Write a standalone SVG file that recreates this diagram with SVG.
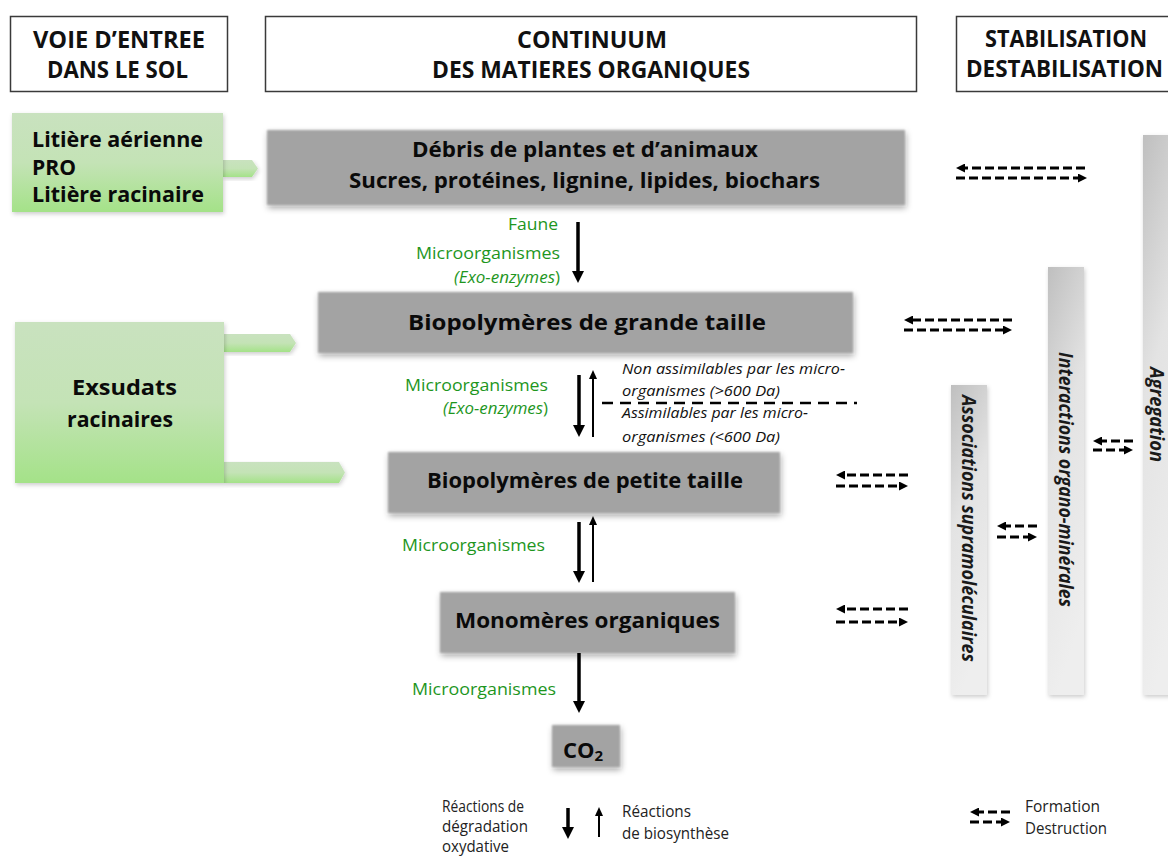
<svg xmlns="http://www.w3.org/2000/svg" width="1168" height="857" viewBox="0 0 1168 857">
<style>
text{font-family:'Open Sans','Liberation Sans',sans-serif;}
.hdr{font-size:23px;font-weight:bold;fill:#111;text-anchor:middle;}
.hbox{fill:#fff;stroke:#3a3a3a;stroke-width:1.5;}
.gbox{fill:#a3a3a3;}
.gt{font-size:22px;font-weight:bold;fill:#0a0a0a;text-anchor:middle;}
.lt{font-size:22px;font-weight:bold;fill:#0a0a0a;}
.grn{font-size:16.5px;fill:#1e961e;text-anchor:end;}
.it{font-size:15px;font-style:italic;fill:#111;}
.leg{font-size:15.5px;fill:#222;}
.vt{font-size:19px;font-weight:bold;font-style:italic;fill:#1a1a1a;}
.thick{stroke:#000;stroke-width:3.5;fill:none;}
.thin{stroke:#000;stroke-width:2;fill:none;}
.dash{stroke:#000;stroke-width:3.2;stroke-dasharray:9 4;fill:none;}
.sep{stroke:#000;stroke-width:2.5;stroke-dasharray:11 7;fill:none;}
</style>
<defs>
<linearGradient id="gg" x1="0" y1="0" x2="0" y2="1">
<stop offset="0" stop-color="#c9e2bf"/>
<stop offset="0.5" stop-color="#c4e3b6"/>
<stop offset="1" stop-color="#a4e288"/>
</linearGradient>
<linearGradient id="bar" x1="0" y1="0" x2="0.25" y2="1">
<stop offset="0" stop-color="#bfbfbf"/>
<stop offset="0.45" stop-color="#e3e3e3"/>
<stop offset="1" stop-color="#eeeeee"/>
</linearGradient>
<filter id="soft" x="-10%" y="-20%" width="125%" height="160%">
<feGaussianBlur in="SourceAlpha" stdDeviation="3" result="b"/>
<feOffset in="b" dx="1" dy="3" result="o"/>
<feFlood flood-color="#000" flood-opacity="0.35"/>
<feComposite in2="o" operator="in" result="s"/>
<feGaussianBlur in="SourceGraphic" stdDeviation="1.2" result="g"/>
<feMerge><feMergeNode in="s"/><feMergeNode in="g"/></feMerge>
</filter>
<filter id="lite" x="-10%" y="-10%" width="125%" height="130%">
<feGaussianBlur in="SourceAlpha" stdDeviation="2" result="b"/>
<feOffset in="b" dx="1" dy="2" result="o"/>
<feFlood flood-color="#000" flood-opacity="0.2"/>
<feComposite in2="o" operator="in" result="s"/>
<feMerge><feMergeNode in="s"/><feMergeNode in="SourceGraphic"/></feMerge>
</filter>
<marker id="ah" viewBox="0 0 12 12" markerWidth="12" markerHeight="12" refX="0" refY="6" orient="auto" markerUnits="userSpaceOnUse">
<path d="M0,0 L12,6 L0,12 z" fill="#000"/>
</marker>
<marker id="ahs" viewBox="0 0 9 8" markerWidth="9" markerHeight="8" refX="0" refY="4" orient="auto" markerUnits="userSpaceOnUse">
<path d="M0,0 L9,4 L0,8 z" fill="#000"/>
</marker>
<marker id="dh" viewBox="0 0 9 9" markerWidth="9" markerHeight="9" refX="0" refY="4.5" orient="auto" markerUnits="userSpaceOnUse">
<path d="M0,0 L9,4.5 L0,9 z" fill="#000"/>
</marker>
</defs>
<rect width="1168" height="857" fill="#fff"/>

<g id="header-voie">
<rect class="hbox" x="10.5" y="16.5" width="217" height="75"/>
<text class="hdr" x="119" y="48" textLength="172" lengthAdjust="spacingAndGlyphs">VOIE D’ENTREE</text>
<text class="hdr" x="117.5" y="78" textLength="141" lengthAdjust="spacingAndGlyphs">DANS LE SOL</text>
</g>
<g id="header-continuum">
<rect class="hbox" x="265.5" y="16.5" width="651" height="75"/>
<text class="hdr" x="592" y="48" textLength="150" lengthAdjust="spacingAndGlyphs">CONTINUUM</text>
<text class="hdr" x="591" y="78" textLength="318" lengthAdjust="spacingAndGlyphs">DES MATIERES ORGANIQUES</text>
</g>
<g id="header-stabilisation">
<rect class="hbox" x="956.5" y="16.5" width="230" height="75"/>
<text class="hdr" x="1066" y="47" textLength="162" lengthAdjust="spacingAndGlyphs">STABILISATION</text>
<text class="hdr" x="1064.5" y="77" textLength="197" lengthAdjust="spacingAndGlyphs">DESTABILISATION</text>
</g>

<g id="litiere">
<polygon points="223,160 252,160 258,168.5 252,177 223,177" fill="url(#gg)" filter="url(#lite)"/>
<rect x="12" y="113" width="211" height="99" fill="url(#gg)" filter="url(#lite)"/>
<text class="lt" x="32" y="147" textLength="171" lengthAdjust="spacingAndGlyphs">Litière aérienne</text>
<text class="lt" x="32" y="175" textLength="44" lengthAdjust="spacingAndGlyphs">PRO</text>
<text class="lt" x="32" y="202" textLength="172" lengthAdjust="spacingAndGlyphs">Litière racinaire</text>
</g>
<g id="exsudats">
<polygon points="224,334 290,334 296,343 290,352 224,352" fill="url(#gg)" filter="url(#lite)"/>
<polygon points="224,462 339,462 345,472.5 339,483 224,483" fill="url(#gg)" filter="url(#lite)"/>
<rect x="15" y="322" width="209" height="161" fill="url(#gg)" filter="url(#lite)"/>
<text class="lt" x="72" y="395" textLength="105" lengthAdjust="spacingAndGlyphs">Exsudats</text>
<text class="lt" x="67" y="427" textLength="106" lengthAdjust="spacingAndGlyphs">racinaires</text>
</g>

<g id="debris">
<rect class="gbox" x="267" y="130" width="638" height="75" filter="url(#soft)"/>
<text class="gt" x="585" y="157" textLength="346" lengthAdjust="spacingAndGlyphs">Débris de plantes et d’animaux</text>
<text class="gt" x="584.5" y="188" textLength="471" lengthAdjust="spacingAndGlyphs">Sucres, protéines, lignine, lipides, biochars</text>
</g>
<g id="biopoly-grande">
<rect class="gbox" x="318" y="292" width="535" height="61" filter="url(#soft)"/>
<text class="gt" x="587" y="330" textLength="358" lengthAdjust="spacingAndGlyphs">Biopolymères de grande taille</text>
</g>
<g id="biopoly-petite">
<rect class="gbox" x="388" y="452" width="392" height="61" filter="url(#soft)"/>
<text class="gt" x="585" y="488" textLength="316" lengthAdjust="spacingAndGlyphs">Biopolymères de petite taille</text>
</g>
<g id="monomeres">
<rect class="gbox" x="440" y="592" width="295" height="61" filter="url(#soft)"/>
<text class="gt" x="587.5" y="628" textLength="265" lengthAdjust="spacingAndGlyphs">Monomères organiques</text>
</g>
<g id="co2">
<rect class="gbox" x="552" y="725" width="68" height="42" filter="url(#soft)"/>
<text class="lt" x="563" y="758" font-size="23">CO<tspan font-size="15" dy="3">2</tspan></text>
</g>

<g id="associations">
<rect x="951" y="385" width="36" height="310" fill="url(#bar)" filter="url(#lite)"/>
<text class="vt" transform="translate(962,395) rotate(90)" textLength="267" lengthAdjust="spacingAndGlyphs">Associations supramoléculaires</text>
</g>
<g id="interactions">
<rect x="1048" y="267" width="36" height="428" fill="url(#bar)" filter="url(#lite)"/>
<text class="vt" transform="translate(1059,352) rotate(90)" textLength="255" lengthAdjust="spacingAndGlyphs">Interactions organo-minérales</text>
</g>
<g id="agregation">
<rect x="1143" y="135" width="40" height="560" fill="url(#bar)" filter="url(#lite)"/>
<text class="vt" transform="translate(1150,367) rotate(90)" textLength="95" lengthAdjust="spacingAndGlyphs">Agregation</text>
</g>

<g id="labels">
<text class="grn" x="558" y="230" textLength="50" lengthAdjust="spacingAndGlyphs">Faune</text>
<text class="grn" x="560" y="259" textLength="144" lengthAdjust="spacingAndGlyphs">Microorganismes</text>
<text class="grn" x="560" y="283" textLength="106" lengthAdjust="spacingAndGlyphs"><tspan font-style="italic">(Exo-enzymes</tspan>)</text>
<text class="grn" x="548" y="391" textLength="143" lengthAdjust="spacingAndGlyphs">Microorganismes</text>
<text class="grn" x="548" y="414" textLength="105" lengthAdjust="spacingAndGlyphs"><tspan font-style="italic">(Exo-enzymes</tspan>)</text>
<text class="grn" x="545" y="551" textLength="143" lengthAdjust="spacingAndGlyphs">Microorganismes</text>
<text class="grn" x="556" y="695" textLength="144" lengthAdjust="spacingAndGlyphs">Microorganismes</text>
<text class="it" x="622" y="374" textLength="223" lengthAdjust="spacingAndGlyphs">Non assimilables par les micro-</text>
<text class="it" x="622" y="396" textLength="158" lengthAdjust="spacingAndGlyphs">organismes (&gt;600 Da)</text>
<text class="it" x="622" y="418" textLength="186" lengthAdjust="spacingAndGlyphs">Assimilables par les micro-</text>
<text class="it" x="622" y="442" textLength="158" lengthAdjust="spacingAndGlyphs">organismes (&lt;600 Da)</text>
</g>

<g id="connectors">
<line class="thick" x1="578" y1="222" x2="578" y2="271" marker-end="url(#ah)"/>
<line class="thick" x1="579" y1="375" x2="579" y2="425" marker-end="url(#ah)"/>
<line class="thin" x1="593" y1="437" x2="593" y2="379" marker-end="url(#ahs)"/>
<line class="thick" x1="579" y1="522" x2="579" y2="571" marker-end="url(#ah)"/>
<line class="thin" x1="593" y1="582" x2="593" y2="525" marker-end="url(#ahs)"/>
<line class="thick" x1="579" y1="653" x2="579" y2="701" marker-end="url(#ah)"/>
<line class="sep" x1="602" y1="403" x2="857" y2="403"/>

<line class="dash" x1="1085" y1="168" x2="965" y2="168" marker-end="url(#dh)"/>
<line class="dash" x1="956" y1="178" x2="1078" y2="178" marker-end="url(#dh)"/>
<line class="dash" x1="1012" y1="320" x2="913" y2="320" marker-end="url(#dh)"/>
<line class="dash" x1="904" y1="330" x2="1003" y2="330" marker-end="url(#dh)"/>
<line class="dash" x1="908" y1="475" x2="845" y2="475" marker-end="url(#dh)"/>
<line class="dash" x1="836" y1="486" x2="899" y2="486" marker-end="url(#dh)"/>
<line class="dash" x1="908" y1="609" x2="845" y2="609" marker-end="url(#dh)"/>
<line class="dash" x1="836" y1="622" x2="899" y2="622" marker-end="url(#dh)"/>
<line class="dash" x1="1037" y1="526" x2="1006" y2="526" marker-end="url(#dh)"/>
<line class="dash" x1="997" y1="537" x2="1028" y2="537" marker-end="url(#dh)"/>
<line class="dash" x1="1133" y1="441" x2="1102" y2="441" marker-end="url(#dh)"/>
<line class="dash" x1="1093" y1="450" x2="1124" y2="450" marker-end="url(#dh)"/>
</g>

<g id="legend">
<line class="thick" x1="568" y1="808" x2="568" y2="827" marker-end="url(#ah)"/>
<line class="thin" x1="599" y1="837" x2="599" y2="816" marker-end="url(#ahs)"/>
<text class="leg" x="442" y="812" textLength="82" lengthAdjust="spacingAndGlyphs">Réactions de</text>
<text class="leg" x="442" y="832" textLength="86" lengthAdjust="spacingAndGlyphs">dégradation</text>
<text class="leg" x="442" y="852" textLength="67" lengthAdjust="spacingAndGlyphs">oxydative</text>
<text class="leg" x="622" y="817" textLength="69" lengthAdjust="spacingAndGlyphs">Réactions</text>
<text class="leg" x="622" y="839" textLength="107" lengthAdjust="spacingAndGlyphs">de biosynthèse</text>
<line class="dash" x1="1010" y1="812" x2="979" y2="812" marker-end="url(#dh)"/>
<line class="dash" x1="970" y1="822" x2="1001" y2="822" marker-end="url(#dh)"/>
<text class="leg" x="1025" y="812" textLength="75" lengthAdjust="spacingAndGlyphs">Formation</text>
<text class="leg" x="1025" y="834" textLength="82" lengthAdjust="spacingAndGlyphs">Destruction</text>
</g>
</svg>
